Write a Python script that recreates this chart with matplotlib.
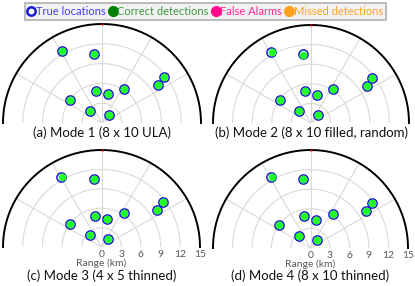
import matplotlib.pyplot as plt
from matplotlib.lines import Line2D
import numpy as np

plt.rcParams['font.family'] = ['Lato', 'DejaVu Sans']

# target positions (km), cross-range x and down-range y
true_x = [-6.1, -1.2, 9.4, 8.5, 3.4, -0.95, 0.85, -4.8, -1.8, 1.0]
true_y = [10.9, 10.5, 6.9, 5.7, 5.2, 4.85, 4.35, 3.5, 1.8, 1.2]

# detections per mode (all correct in every mode)
det_x = {
    'a': [-6.1, -1.2, 9.4, 8.5, 3.4, -0.95, 0.85, -4.8, -1.8, 1.0],
    'b': [-6.0, -1.2, 9.4, 8.5, 3.4, -0.95, 0.85, -4.8, -1.8, 1.0],
    'c': [-6.0, -1.2, 9.4, 8.5, 3.4, -0.95, 0.85, -4.8, -1.8, 1.0],
    'd': [-6.0, -1.2, 9.4, 8.5, 3.4, -0.95, 0.85, -4.8, -1.8, 1.0],
}
det_y = {
    'a': [10.9, 10.5, 6.9, 5.7, 5.2, 4.85, 4.35, 3.5, 1.8, 1.2],
    'b': [10.8, 10.4, 6.9, 5.7, 5.2, 4.85, 4.35, 3.5, 1.8, 1.2],
    'c': [10.9, 10.5, 6.9, 5.7, 5.2, 4.85, 4.35, 3.5, 1.8, 1.2],
    'd': [10.9, 10.5, 6.9, 5.7, 5.2, 4.85, 4.35, 3.5, 1.8, 1.2],
}
captions = {
    'a': '(a) Mode 1 (8 x 10 ULA)',
    'b': '(b) Mode 2 (8 x 10 filled, random)',
    'c': '(c) Mode 3 (4 x 5 thinned)',
    'd': '(d) Mode 4 (8 x 10 thinned)',
}
range_ticks = [0, 3, 6, 9, 12, 15]
grid_r = [3, 6, 9, 12]
spokes = [30, 60, 90, 120, 150]
r_max = 15

W, H = 415, 286
fig = plt.figure(figsize=(W / 100, H / 100), dpi=100)

# panel boxes in pixels: left, right, top, baseline
boxes = {
    'a': (3, 201, 24, 123),
    'b': (213, 409, 25, 123),
    'c': (3, 200, 150, 247),
    'd': (213, 408, 150, 248),
}
cap_y = {'a': 133, 'b': 133, 'c': 276, 'd': 276}

th = np.linspace(0, np.pi, 300)
for k, (l, r, t, b) in boxes.items():
    ax = fig.add_axes([l / W, 1 - b / H, (r - l) / W, (b - t) / H])
    ax.set_xlim(-r_max, r_max)
    ax.set_ylim(0, r_max)
    for s in ax.spines.values():
        s.set_visible(False)
    for g in grid_r:
        ax.plot(g * np.cos(th), g * np.sin(th), color='#d9d9d9', lw=0.8, zorder=1)
    for a in spokes:
        ax.plot([0, r_max * np.cos(np.radians(a))], [0, r_max * np.sin(np.radians(a))],
                color='#d9d9d9', lw=0.8, zorder=1)
    ax.plot(r_max * np.cos(th), r_max * np.sin(th), color='black', lw=1.4, zorder=2,
            clip_on=False)
    ax.plot([0], [r_max], 's', color='red', ms=2, mec='none', zorder=3, clip_on=False)
    ax.plot(true_x, true_y, 'o', ms=6.6, mfc='none', mec='#1a1acd', mew=1.1, zorder=4)
    ax.plot(det_x[k], det_y[k], 'o', ms=5.6, mfc='#22ff22', mec='none', zorder=5)
    ax.set_yticks([])
    if k in ('c', 'd'):
        ax.set_xticks(range_ticks)
        ax.set_xticklabels([str(v) for v in range_ticks])
        ax.tick_params(axis='x', length=0, pad=2, labelsize=7.5, labelcolor='#595959')
        ax.set_xlabel('Range (km)', fontsize=7.5, color='#595959', labelpad=0)
    else:
        ax.set_xticks([])
    cx = (l + r) / 2
    fig.text(cx / W, 1 - cap_y[k] / H, captions[k], ha='center', va='center',
             fontsize=9.5, color='#111111')

handles = [
    Line2D([], [], ls='none', marker='o', ms=6, mfc='white', mec='#1a1adc', mew=1.8),
    Line2D([], [], ls='none', marker='o', ms=7, mfc='#008000', mec='#008000'),
    Line2D([], [], ls='none', marker='o', ms=7, mfc='#ff0a8c', mec='#ff0a8c'),
    Line2D([], [], ls='none', marker='o', ms=7, mfc='#ffa020', mec='#ffa020'),
]
labels = ['True locations', 'Correct detections', 'False Alarms', 'Missed detections']
text_colors = ['#4b3cf5', '#3c9a3c', '#ff2a9a', '#ffa028']
leg = fig.legend(handles, labels, loc='center', bbox_to_anchor=(205.5 / W, 1 - 11.5 / H),
                 ncol=4, fontsize=8, handlelength=0.6, handletextpad=0.1,
                 columnspacing=0.35, borderpad=0.25, frameon=True, fancybox=False,
                 facecolor='#f2f2f2', edgecolor='#b0b0b0', framealpha=1)
leg.get_frame().set_linewidth(1.2)
for txt, c in zip(leg.get_texts(), text_colors):
    txt.set_color(c)

fig.savefig('out.png', dpi=100)
